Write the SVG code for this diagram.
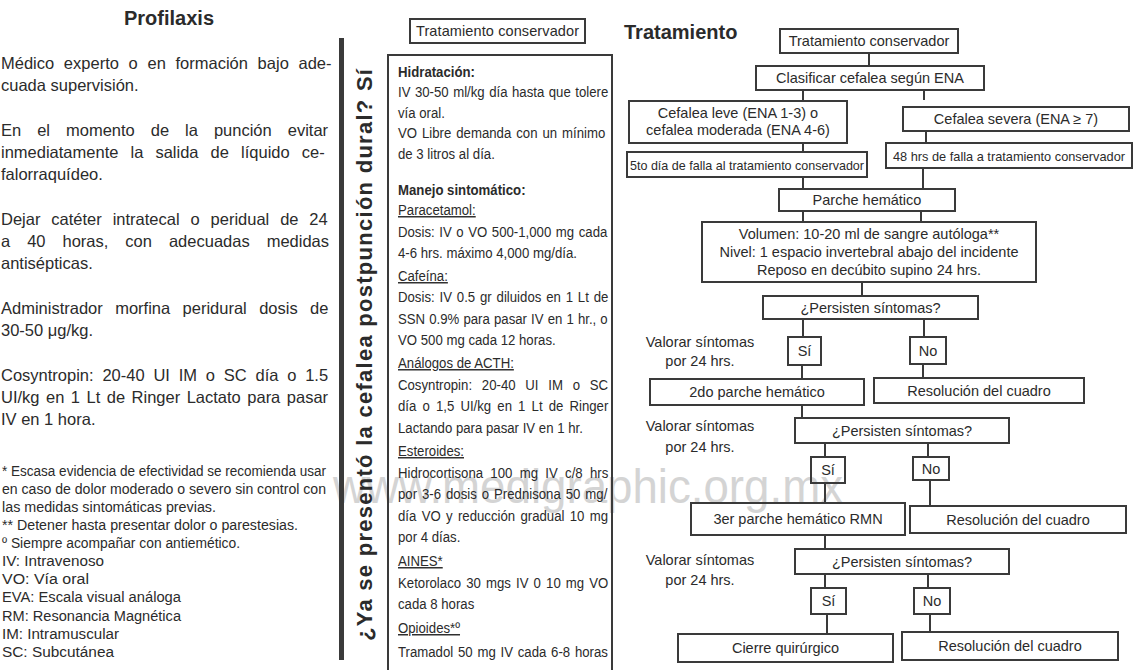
<svg xmlns="http://www.w3.org/2000/svg" width="1138" height="670" viewBox="0 0 1138 670">
<style>
text{font-family:"Liberation Sans",Arial,Helvetica,sans-serif;fill:#2b2b2b}
.body{font-size:16.5px}
.fn{font-size:14px}
.mid{font-size:14.5px}
.b{font-weight:bold}
.u{text-decoration:underline}
.fc{font-size:14.5px;text-anchor:middle}
.sm{font-size:13px}
.ttl{font-size:20px;font-weight:bold}
.box{fill:none;stroke:#3a3a3a;stroke-width:2}
.conn{stroke:#3a3a3a;stroke-width:2;fill:none}
.wm{font-size:48px;fill:#d4d4d4}
</style>
<rect width="1138" height="670" fill="#fff"/>
<text class="wm" x="333" y="503" textLength="510" lengthAdjust="spacingAndGlyphs">www.medigraphic.org.mx</text>

<g id="profilaxis">
<text class="ttl" x="169" y="25" text-anchor="middle">Profilaxis</text>
<text class="body" x="1" y="69" style="word-spacing:5.1px">Médico experto o en formación bajo ade-</text>
<text class="body" x="1" y="91">cuada supervisión.</text>
<text class="body" x="1" y="136" style="word-spacing:11.4px">En el momento de la punción evitar</text>
<text class="body" x="1" y="158" style="word-spacing:7.5px">inmediatamente la salida de líquido ce-</text>
<text class="body" x="1" y="180">falorraquídeo.</text>
<text class="body" x="1" y="225" style="word-spacing:6.3px">Dejar catéter intratecal o peridual de 24</text>
<text class="body" x="1" y="247" style="word-spacing:12.4px">a 40 horas, con adecuadas medidas</text>
<text class="body" x="1" y="269">antisépticas.</text>
<text class="body" x="1" y="314" style="word-spacing:7.8px">Administrador morfina peridural dosis de</text>
<text class="body" x="1" y="336">30-50 μg/kg.</text>
<text class="body" x="1" y="381" style="word-spacing:4.2px">Cosyntropin: 20-40 UI IM o SC día o 1.5</text>
<text class="body" x="1" y="403" style="word-spacing:1.9px">UI/kg en 1 Lt de Ringer Lactato para pasar</text>
<text class="body" x="1" y="425">IV en 1 hora.</text>
</g>

<g id="notas">
<text class="fn" x="2" y="476" textLength="324" lengthAdjust="spacingAndGlyphs">* Escasa evidencia de efectividad se recomienda usar</text>
<text class="fn" x="2" y="494" textLength="324" lengthAdjust="spacingAndGlyphs">en caso de dolor moderado o severo sin control con</text>
<text class="fn" x="2" y="512" textLength="214" lengthAdjust="spacingAndGlyphs">las medidas sintomáticas previas.</text>
<text class="fn" x="2" y="530" textLength="296" lengthAdjust="spacingAndGlyphs">** Detener hasta presentar dolor o parestesias.</text>
<text class="fn" x="2" y="548" textLength="238" lengthAdjust="spacingAndGlyphs">º Siempre acompañar con antiemético.</text>
<text class="fn" x="2" y="566" textLength="102" lengthAdjust="spacingAndGlyphs">IV: Intravenoso</text>
<text class="fn" x="2" y="584" textLength="87" lengthAdjust="spacingAndGlyphs">VO: Vía oral</text>
<text class="fn" x="2" y="602" textLength="179" lengthAdjust="spacingAndGlyphs">EVA: Escala visual análoga</text>
<text class="fn" x="2" y="621" textLength="179" lengthAdjust="spacingAndGlyphs">RM: Resonancia Magnética</text>
<text class="fn" x="2" y="639" textLength="117" lengthAdjust="spacingAndGlyphs">IM: Intramuscular</text>
<text class="fn" x="2" y="657" textLength="112" lengthAdjust="spacingAndGlyphs">SC: Subcutánea</text>
</g>

<g id="pregunta">
<rect x="339" y="38" width="5" height="622" fill="#3a3a3a"/>
<text transform="translate(372,641) rotate(-90)" style="font-size:22px;font-weight:bold" textLength="572" lengthAdjust="spacing">¿Ya se presentó la cefalea postpunción dural? Sí</text>
</g>

<g id="tratamiento-conservador-titulo">
<rect class="box" x="410" y="19" width="175" height="24"/>
<text class="fc" x="497.5" y="36" textLength="163">Tratamiento conservador</text>
</g>

<g id="tratamiento-conservador-detalle">
<rect class="box" x="388" y="55" width="224" height="630"/>
<g transform="translate(398,0) scale(0.91,1)">
<text class="mid b" x="0" y="77">Hidratación:</text>
<text class="mid" x="0" y="97.5" style="word-spacing:0.9px">IV 30-50 ml/kg día hasta que tolere</text>
<text class="mid" x="0" y="118">vía oral.</text>
<text class="mid" x="0" y="138.5" style="word-spacing:1.4px">VO Libre demanda con un mínimo</text>
<text class="mid" x="0" y="159">de 3 litros al día.</text>
<text class="mid b" x="0" y="195">Manejo sintomático:</text>
<text class="mid u" x="0" y="215">Paracetamol:</text>
<text class="mid" x="0" y="237" style="word-spacing:1px">Dosis: IV o VO 500-1,000 mg cada</text>
<text class="mid" x="0" y="258.5">4-6 hrs. máximo 4,000 mg/día.</text>
<text class="mid u" x="0" y="281">Cafeína:</text>
<text class="mid" x="0" y="302.5" style="word-spacing:1.3px">Dosis: IV 0.5 gr diluidos en 1 Lt de</text>
<text class="mid" x="0" y="324" style="word-spacing:0.5px">SSN 0.9% para pasar IV en 1 hr., o</text>
<text class="mid" x="0" y="345.5">VO 500 mg cada 12 horas.</text>
<text class="mid u" x="0" y="368">Análogos de ACTH:</text>
<text class="mid" x="0" y="390" style="word-spacing:6.7px">Cosyntropin: 20-40 UI IM o SC</text>
<text class="mid" x="0" y="411.5" style="word-spacing:2.7px">día o 1,5 UI/kg en 1 Lt de Ringer</text>
<text class="mid" x="0" y="433">Lactando para pasar IV en 1 hr.</text>
<text class="mid u" x="0" y="456">Esteroides:</text>
<text class="mid" x="0" y="478" style="word-spacing:4px">Hidrocortisona 100 mg IV c/8 hrs</text>
<text class="mid" x="0" y="499.5" style="word-spacing:1.4px">por 3-6 dosis o Prednisona 50 mg/</text>
<text class="mid" x="0" y="521" style="word-spacing:1.8px">día VO y reducción gradual 10 mg</text>
<text class="mid" x="0" y="542.5">por 4 días.</text>
<text class="mid u" x="0" y="566">AINES*</text>
<text class="mid" x="0" y="588" style="word-spacing:1.6px">Ketorolaco 30 mgs IV 0 10 mg VO</text>
<text class="mid" x="0" y="609.5">cada 8 horas</text>
<text class="mid u" x="0" y="633">Opioides*º</text>
<text class="mid" x="0" y="657" style="word-spacing:1.2px">Tramadol 50 mg IV cada 6-8 horas</text>
</g>
</g>

<text class="b" x="624" y="39" style="font-size:20px">Tratamiento</text>

<g id="connectors">
<path class="conn" d="M869 53V66 M803 90V101 M924 90V100 M803 143V152 M926 131V143 M803 177V189 M923 168V189 M803 211V222 M921 211V222 M862 282V296 M803 319V337 M924 319V337 M802 365V379 M923 364V378 M802 405V418 M825 443V457 M928 443V457 M825 483V503 M930 480V506 M825 535V549 M825 574V588 M928 574V588 M827 614V634 M930 614V632"/>
</g>

<g id="n-tratamiento"><rect class="box" x="780" y="29" width="178" height="24"/><text class="fc" x="869" y="46">Tratamiento conservador</text></g>
<g id="n-clasificar"><rect class="box" x="756" y="66" width="228" height="24"/><text class="fc" x="870" y="83">Clasificar cefalea según ENA</text></g>
<g id="n-leve"><rect class="box" x="629" y="101" width="218" height="42"/><text class="fc" x="738" y="118">Cefalea leve (ENA 1-3) o</text><text class="fc" x="738" y="135">cefalea moderada (ENA 4-6)</text></g>
<g id="n-severa"><rect class="box" x="903" y="107" width="226" height="24"/><text class="fc" x="1016" y="124">Cefalea severa (ENA ≥ 7)</text></g>
<g id="n-5to"><rect class="box" x="627" y="152" width="240" height="25"/><text class="fc sm" x="747" y="169.5" textLength="234" lengthAdjust="spacingAndGlyphs">5to día de falla al tratamiento conservador</text></g>
<g id="n-48"><rect class="box" x="886" y="143" width="246" height="25"/><text class="fc sm" x="1009" y="160.5" textLength="232" lengthAdjust="spacingAndGlyphs">48 hrs de falla a tratamiento conservador</text></g>
<g id="n-parche"><rect class="box" x="779" y="189" width="176" height="22"/><text class="fc" x="867" y="205">Parche hemático</text></g>
<g id="n-volumen"><rect class="box" x="702" y="222" width="334" height="60"/><text class="fc" x="869" y="239">Volumen: 10-20 ml de sangre autóloga**</text><text class="fc" x="869" y="257">Nivel: 1 espacio invertebral abajo del incidente</text><text class="fc" x="869" y="275">Reposo en decúbito supino 24 hrs.</text></g>
<g id="n-persisten1"><rect class="box" x="763" y="296" width="215" height="23"/><text class="fc" x="870.5" y="312.5">¿Persisten síntomas?</text></g>
<g id="n-si1"><rect class="box" x="788" y="337" width="33" height="28"/><text class="fc" x="804.5" y="356">Sí</text></g>
<g id="n-no1"><rect class="box" x="910" y="337" width="36" height="27"/><text class="fc" x="928" y="355.5">No</text></g>
<g id="n-valorar1"><text class="fc" x="700" y="347">Valorar síntomas</text><text class="fc" x="700" y="366">por 24 hrs.</text></g>
<g id="n-2do"><rect class="box" x="650" y="379" width="214" height="26"/><text class="fc" x="757" y="397">2do parche hemático</text></g>
<g id="n-res1"><rect class="box" x="874" y="378" width="210" height="25"/><text class="fc" x="979" y="395.5">Resolución del cuadro</text></g>
<g id="n-valorar2"><text class="fc" x="700" y="431">Valorar síntomas</text><text class="fc" x="700" y="452">por 24 hrs.</text></g>
<g id="n-persisten2"><rect class="box" x="795" y="418" width="214" height="25"/><text class="fc" x="902" y="435.5">¿Persisten síntomas?</text></g>
<g id="n-si2"><rect class="box" x="811" y="457" width="34" height="26"/><text class="fc" x="828" y="475">Sí</text></g>
<g id="n-no2"><rect class="box" x="913" y="457" width="36" height="23"/><text class="fc" x="931" y="473.5">No</text></g>
<g id="n-3er"><rect class="box" x="691" y="503" width="214" height="32"/><text class="fc" x="798" y="524">3er parche hemático RMN</text></g>
<g id="n-res2"><rect class="box" x="910" y="506" width="216" height="27"/><text class="fc" x="1018" y="524.5">Resolución del cuadro</text></g>
<g id="n-valorar3"><text class="fc" x="700" y="565">Valorar síntomas</text><text class="fc" x="700" y="585">por 24 hrs.</text></g>
<g id="n-persisten3"><rect class="box" x="795" y="549" width="214" height="25"/><text class="fc" x="902" y="566.5">¿Persisten síntomas?</text></g>
<g id="n-si3"><rect class="box" x="811" y="588" width="35" height="26"/><text class="fc" x="828.5" y="606">Sí</text></g>
<g id="n-no3"><rect class="box" x="914" y="588" width="36" height="26"/><text class="fc" x="932" y="606">No</text></g>
<g id="n-cierre"><rect class="box" x="678" y="634" width="215" height="28"/><text class="fc" x="785.5" y="653">Cierre quirúrgico</text></g>
<g id="n-res3"><rect class="box" x="902" y="632" width="216" height="28"/><text class="fc" x="1010" y="651">Resolución del cuadro</text></g>
</svg>
